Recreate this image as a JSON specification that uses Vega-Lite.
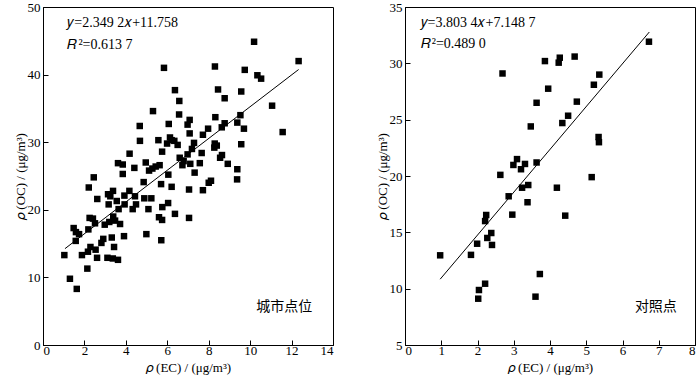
{
  "$schema": "https://vega.github.io/schema/vega-lite/v6.json",
  "background": "white",
  "padding": {"left": 13, "top": 0, "right": 0, "bottom": 0},
  "spacing": 41,
  "config": {
    "font": "Liberation Serif",
    "view": {"stroke": "black", "strokeWidth": 1},
    "axis": {
      "domainColor": "black", "tickColor": "black", "tickSize": -5, "format": "d",
      "labelFont": "Liberation Serif", "labelFontSize": 13, "labelColor": "black", "labelOverlap": false,
      "titleFont": "Liberation Serif", "titleFontSize": 13, "titleFontWeight": "normal", "titleColor": "black",
      "grid": false
    },
    "axisX": {"labelPadding": 4, "titlePadding": 4},
    "axisY": {"labelPadding": 8, "titlePadding": 0}
  },
  "datasets": {
    "urban": [
      {"ec":10.19,"oc":44.86},{"ec":12.34,"oc":42.0},{"ec":5.84,"oc":41.0},{"ec":8.30,"oc":41.2},{"ec":9.74,"oc":40.7},
      {"ec":10.35,"oc":39.9},{"ec":10.53,"oc":39.4},{"ec":6.37,"oc":37.7},{"ec":8.45,"oc":37.8},{"ec":9.57,"oc":37.5},
      {"ec":6.58,"oc":36.1},{"ec":8.77,"oc":36.5},{"ec":11.06,"oc":35.4},{"ec":5.31,"oc":34.6},{"ec":6.57,"oc":34.1},
      {"ec":9.53,"oc":34.0},{"ec":7.08,"oc":33.3},{"ec":6.98,"oc":32.6},{"ec":6.07,"oc":32.7},{"ec":4.67,"oc":32.4},
      {"ec":8.32,"oc":33.7},{"ec":8.77,"oc":32.8},{"ec":8.63,"oc":32.2},{"ec":9.38,"oc":32.9},{"ec":9.70,"oc":32.0},
      {"ec":7.97,"oc":32.0},{"ec":11.57,"oc":31.5},{"ec":7.08,"oc":31.3},{"ec":7.72,"oc":31.1},{"ec":5.57,"oc":30.3},
      {"ec":4.68,"oc":30.2},{"ec":6.13,"oc":30.7},{"ec":6.21,"oc":30.3},{"ec":6.34,"oc":30.2},{"ec":5.99,"oc":29.8},
      {"ec":6.50,"oc":29.6},{"ec":7.29,"oc":29.9},{"ec":8.29,"oc":29.8},{"ec":8.39,"oc":29.5},{"ec":8.27,"oc":29.2},
      {"ec":9.57,"oc":29.7},{"ec":7.19,"oc":29.0},{"ec":5.75,"oc":28.6},{"ec":4.18,"oc":28.3},{"ec":7.66,"oc":28.4},
      {"ec":6.98,"oc":28.2},{"ec":6.60,"oc":27.7},{"ec":8.55,"oc":27.7},{"ec":8.64,"oc":28.1},{"ec":6.79,"oc":27.2},
      {"ec":3.62,"oc":26.9},{"ec":3.85,"oc":26.7},{"ec":4.96,"oc":27.0},{"ec":5.63,"oc":26.6},{"ec":4.41,"oc":26.2},
      {"ec":5.44,"oc":26.4},{"ec":5.28,"oc":26.1},{"ec":5.12,"oc":25.8},{"ec":6.73,"oc":26.6},{"ec":7.11,"oc":26.8},
      {"ec":7.57,"oc":26.9},{"ec":8.92,"oc":26.8},{"ec":9.38,"oc":26.0},{"ec":7.32,"oc":25.5},{"ec":3.85,"oc":25.3},
      {"ec":2.45,"oc":24.8},{"ec":6.05,"oc":25.2},{"ec":8.11,"oc":24.3},{"ec":9.37,"oc":24.5},{"ec":8.0,"oc":24.0},
      {"ec":2.21,"oc":23.3},{"ec":4.86,"oc":24.1},{"ec":5.70,"oc":23.8},{"ec":6.21,"oc":23.4},{"ec":7.05,"oc":23.0},
      {"ec":7.72,"oc":22.9},{"ec":4.17,"oc":22.8},{"ec":3.38,"oc":22.8},{"ec":3.14,"oc":22.3},{"ec":3.25,"oc":22.0},
      {"ec":3.93,"oc":22.1},{"ec":4.44,"oc":22.0},{"ec":2.62,"oc":21.6},{"ec":3.56,"oc":21.3},{"ec":3.17,"oc":20.8},
      {"ec":3.94,"oc":20.8},{"ec":4.49,"oc":20.8},{"ec":4.89,"oc":21.7},{"ec":5.23,"oc":21.7},{"ec":6.04,"oc":21.0},
      {"ec":5.76,"oc":20.4},{"ec":3.65,"oc":20.1},{"ec":4.33,"oc":20.1},{"ec":5.09,"oc":20.1},{"ec":6.37,"oc":19.4},
      {"ec":7.05,"oc":18.8},{"ec":5.60,"oc":18.9},{"ec":5.75,"oc":18.5},{"ec":2.25,"oc":18.8},{"ec":2.41,"oc":18.7},
      {"ec":2.51,"oc":18.0},{"ec":2.98,"oc":17.8},{"ec":3.20,"oc":18.2},{"ec":3.48,"oc":18.4},{"ec":3.39,"oc":19.0},
      {"ec":3.72,"oc":17.9},{"ec":1.48,"oc":17.3},{"ec":1.59,"oc":16.7},{"ec":1.74,"oc":16.4},{"ec":2.19,"oc":17.1},
      {"ec":4.99,"oc":16.4},{"ec":3.91,"oc":16.1},{"ec":5.71,"oc":15.5},{"ec":2.91,"oc":15.7},{"ec":2.82,"oc":15.1},
      {"ec":3.32,"oc":15.9},{"ec":1.58,"oc":15.4},{"ec":3.43,"oc":14.5},{"ec":2.29,"oc":14.5},{"ec":2.54,"oc":14.1},
      {"ec":2.17,"oc":13.8},{"ec":1.88,"oc":13.3},{"ec":1.03,"oc":13.3},{"ec":2.61,"oc":12.9},{"ec":3.11,"oc":12.9},
      {"ec":3.37,"oc":12.8},{"ec":3.62,"oc":12.6},{"ec":2.14,"oc":11.3},{"ec":1.30,"oc":9.8},{"ec":1.63,"oc":8.3}
    ],
    "urbanLine": [{"ec":1.06,"oc":14.25},{"ec":12.34,"oc":40.75}],
    "urbanEq": [
      {"ec":1.17,"oc":47.6,"t":"𝑦=2.349 2𝑥+11.758"},
      {"ec":1.17,"oc":44.4,"t":"𝑅\u200a²=0.613 7"}
    ],
    "urbanLabel": [{"ec":13.0,"oc":5.6,"t":"城市点位"}],
    "control": [
      {"ec":6.73,"oc":31.92},{"ec":2.69,"oc":29.1},{"ec":3.86,"oc":30.2},{"ec":4.24,"oc":30.06},{"ec":4.27,"oc":30.5},
      {"ec":4.68,"oc":30.6},{"ec":5.36,"oc":29.0},{"ec":5.21,"oc":28.1},{"ec":3.95,"oc":27.75},{"ec":3.63,"oc":26.5},
      {"ec":4.74,"oc":26.6},{"ec":4.50,"oc":25.35},{"ec":4.34,"oc":24.7},{"ec":3.47,"oc":24.4},{"ec":5.34,"oc":23.46},
      {"ec":5.35,"oc":23.0},{"ec":3.09,"oc":21.5},{"ec":2.99,"oc":20.98},{"ec":3.31,"oc":21.07},{"ec":3.20,"oc":20.6},
      {"ec":3.63,"oc":21.2},{"ec":2.63,"oc":20.1},{"ec":5.15,"oc":19.9},{"ec":3.23,"oc":18.96},{"ec":3.40,"oc":19.2},
      {"ec":4.19,"oc":18.96},{"ec":2.86,"oc":18.2},{"ec":3.38,"oc":17.67},{"ec":2.96,"oc":16.57},{"ec":4.42,"oc":16.48},
      {"ec":2.24,"oc":16.54},{"ec":2.21,"oc":16.0},{"ec":2.38,"oc":14.94},{"ec":2.27,"oc":14.5},{"ec":2.40,"oc":13.88},
      {"ec":1.99,"oc":13.99},{"ec":0.97,"oc":12.96},{"ec":1.82,"oc":13.0},{"ec":3.72,"oc":11.3},{"ec":2.21,"oc":10.44},
      {"ec":2.04,"oc":9.88},{"ec":2.02,"oc":9.11},{"ec":3.60,"oc":9.29}
    ],
    "controlLine": [{"ec":0.97,"oc":10.84},{"ec":6.74,"oc":32.78}],
    "controlEq": [
      {"ec":0.43,"oc":33.6,"t":"𝑦=3.803 4𝑥+7.148 7"},
      {"ec":0.43,"oc":31.7,"t":"𝑅\u200a²=0.489 0"}
    ],
    "controlLabel": [{"ec":7.5,"oc":8.4,"t":"对照点"}]
  },
  "hconcat": [
    {
      "width": 290, "height": 338,
      "layer": [
        {
          "data": {"name": "urban"},
          "mark": {"type": "square", "filled": true, "color": "black", "size": 42, "opacity": 1},
          "encoding": {
            "x": {"field": "ec", "type": "quantitative", "scale": {"domain": [0, 14], "nice": false}, "axis": {"values": [0,2,4,6,8,10,12,14], "tickCount": 20, "format": "d", "labelOverlap": false, "title": "𝜌 (EC) / (μg/m³)"}},
            "y": {"field": "oc", "type": "quantitative", "scale": {"domain": [0, 50], "nice": false}, "axis": {"values": [0,10,20,30,40,50], "tickCount": 20, "format": "d", "labelOverlap": false, "title": "𝜌 (OC) / (μg/m³)"}}
          }
        },
        {
          "data": {"name": "urbanLine"},
          "mark": {"type": "line", "color": "black", "strokeWidth": 1},
          "encoding": {"x": {"field": "ec", "type": "quantitative"}, "y": {"field": "oc", "type": "quantitative"}}
        },
        {
          "data": {"name": "urbanEq"},
          "mark": {"type": "text", "fontSize": 14, "font": "Liberation Serif", "color": "black", "baseline": "middle", "align": "left"},
          "encoding": {"x": {"field": "ec", "type": "quantitative"}, "y": {"field": "oc", "type": "quantitative"}, "text": {"field": "t"}}
        },
        {
          "data": {"name": "urbanLabel"},
          "mark": {"type": "text", "fontSize": 14, "font": "Noto Sans CJK SC", "color": "black", "baseline": "middle", "align": "right"},
          "encoding": {"x": {"field": "ec", "type": "quantitative"}, "y": {"field": "oc", "type": "quantitative"}, "text": {"field": "t"}}
        }
      ]
    },
    {
      "width": 290, "height": 338,
      "layer": [
        {
          "data": {"name": "control"},
          "mark": {"type": "square", "filled": true, "color": "black", "size": 42, "opacity": 1},
          "encoding": {
            "x": {"field": "ec", "type": "quantitative", "scale": {"domain": [0, 8], "nice": false}, "axis": {"values": [0,1,2,3,4,5,6,7,8], "tickCount": 20, "format": "d", "labelOverlap": false, "title": "𝜌 (EC) / (μg/m³)"}},
            "y": {"field": "oc", "type": "quantitative", "scale": {"domain": [5, 35], "nice": false, "zero": false}, "axis": {"values": [5,10,15,20,25,30,35], "tickCount": 20, "format": "d", "labelOverlap": false, "title": "𝜌 (OC) / (μg/m³)"}}
          }
        },
        {
          "data": {"name": "controlLine"},
          "mark": {"type": "line", "color": "black", "strokeWidth": 1},
          "encoding": {"x": {"field": "ec", "type": "quantitative"}, "y": {"field": "oc", "type": "quantitative"}}
        },
        {
          "data": {"name": "controlEq"},
          "mark": {"type": "text", "fontSize": 14, "font": "Liberation Serif", "color": "black", "baseline": "middle", "align": "left"},
          "encoding": {"x": {"field": "ec", "type": "quantitative"}, "y": {"field": "oc", "type": "quantitative"}, "text": {"field": "t"}}
        },
        {
          "data": {"name": "controlLabel"},
          "mark": {"type": "text", "fontSize": 14, "font": "Noto Sans CJK SC", "color": "black", "baseline": "middle", "align": "right"},
          "encoding": {"x": {"field": "ec", "type": "quantitative"}, "y": {"field": "oc", "type": "quantitative"}, "text": {"field": "t"}}
        }
      ]
    }
  ]
}
